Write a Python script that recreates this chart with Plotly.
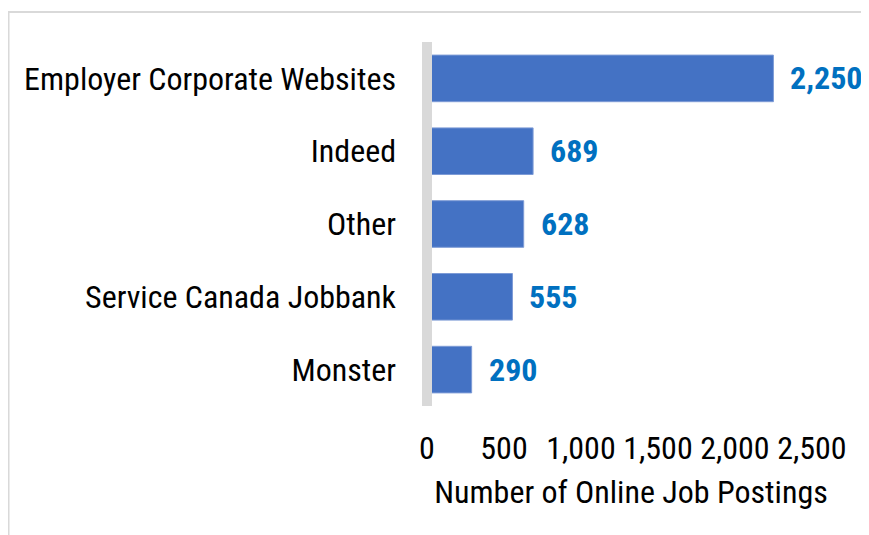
import plotly.graph_objects as go

# Online job postings by source
sources = ["Employer Corporate Websites", "Indeed", "Other",
           "Service Canada Jobbank", "Monster"]
postings = [2250, 689, 628, 555, 290]
x_ticks = [0, 500, 1000, 1500, 2000, 2500]

FONT = "Roboto Condensed, Liberation Sans Narrow, DejaVu Sans Condensed, Roboto, sans-serif"

fig = go.Figure()
fig.add_trace(go.Bar(
    x=postings, y=sources, orientation="h",
    marker=dict(color="#4472C4", line=dict(color="#7d9bd6", width=1)),
    hoverinfo="x+y"))

# value labels to the right of each bar
for s, v in zip(sources, postings):
    fig.add_annotation(
        x=v, y=s, text=f"<b>{v:,}</b>", showarrow=False,
        xanchor="left", xshift=15,
        font=dict(family=FONT, size=32, color="#0070C0"))

# thick grey baseline at the left edge of the plot, over the bars
fig.add_shape(type="line", xref="paper", yref="paper", x0=0, x1=0, y0=0, y1=1,
              line=dict(color="#d9d9d9", width=10), layer="above")

# light grey frame around the chart area
fig.add_shape(type="rect", xref="paper", yref="paper",
              x0=-1.0257, x1=1.2, y0=-0.5, y1=1.0824,
              line=dict(color="#d9d9d9", width=2), layer="below")

fig.update_layout(
    width=869, height=535,
    margin=dict(l=419, r=42, t=34, b=137),
    paper_bgcolor="white", plot_bgcolor="white",
    font=dict(family=FONT, size=32, color="#000000"),
    bargap=0.36, showlegend=False,
    xaxis=dict(range=[0, 2650], tickvals=x_ticks, tickformat=",",
               showgrid=False, zeroline=False,
               ticklabelstandoff=20,
               title=dict(text="Number of Online Job Postings", standoff=14,
                          font=dict(size=32))),
    yaxis=dict(autorange="reversed", showgrid=False, zeroline=False,
               ticklabelstandoff=30),
)

fig.write_html("out.html")
